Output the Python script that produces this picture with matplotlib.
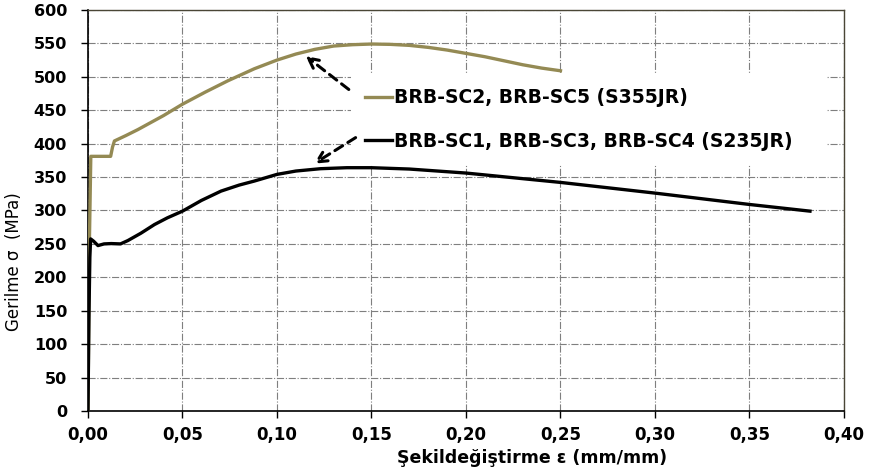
import matplotlib
matplotlib.use("Agg")
import matplotlib.pyplot as plt
from matplotlib.ticker import FuncFormatter

plt.rcParams['font.family'] = ['DejaVu Sans']

# Data
s355_label = "BRB-SC2, BRB-SC5 (S355JR)"
s355_strain = [0, 0.0008, 0.0015, 0.012, 0.013, 0.014, 0.02, 0.0264, 0.04, 0.05, 0.062, 0.074,
               0.088, 0.10, 0.11, 0.12, 0.13, 0.14, 0.15, 0.16, 0.17, 0.18, 0.19, 0.20,
               0.21, 0.22, 0.23, 0.24, 0.25]
s355_stress = [0, 260, 381, 381, 395, 404, 412, 421, 442, 459, 477, 494,
               512, 525, 534, 541, 546, 548, 549, 548.5, 547, 544, 540, 535,
               530, 524, 518, 513, 509]

s235_label = "BRB-SC1, BRB-SC3, BRB-SC4 (S235JR)"
s235_strain = [0, 0.0005, 0.0010, 0.0014, 0.0030, 0.0053, 0.0085, 0.0123, 0.0172, 0.0211,
               0.028, 0.0352, 0.042, 0.05, 0.06, 0.0704, 0.08, 0.088, 0.10, 0.11, 0.123,
               0.137, 0.15, 0.17, 0.20, 0.25, 0.30, 0.35, 0.382]
s235_stress = [0, 140, 230, 257.5, 254, 247.5, 250, 250.5, 250, 255,
               266, 279, 289, 299, 315, 329, 338, 344, 354, 359, 362.5,
               364, 364, 362, 356, 342, 326, 309, 299]

x_ticks = [0.00, 0.05, 0.10, 0.15, 0.20, 0.25, 0.30, 0.35, 0.40]
y_ticks = list(range(0, 601, 50))

fig = plt.figure(figsize=(8.71, 4.73), dpi=100)
ax = fig.add_axes([0.101, 0.131, 0.868, 0.848])

gold = '#948A54'
ax.plot(s355_strain, s355_stress, color=gold, lw=2.4, label=s355_label, zorder=3)
ax.plot(s235_strain, s235_stress, color='black', lw=2.4, label=s235_label, zorder=3)

ax.set_xlim(0, 0.40)
ax.set_ylim(0, 600)
ax.set_xticks(x_ticks)
ax.set_yticks(y_ticks)
ax.xaxis.set_major_formatter(FuncFormatter(lambda v, p: f"{v:.2f}".replace('.', ',')))
ax.tick_params(axis='both', direction='out', length=5, width=1)
ax.tick_params(axis='x', labelsize=12, pad=6)
ax.tick_params(axis='y', labelsize=11.5, pad=10)
for lab in ax.get_xticklabels() + ax.get_yticklabels():
    lab.set_fontweight('bold')

ax.grid(True, color='#7f7f7f', linestyle='-.', linewidth=0.8, zorder=0)
ax.set_axisbelow(True)

for side in ['left', 'bottom']:
    ax.spines[side].set_color('black')
    ax.spines[side].set_linewidth(1.2)
for side in ['top', 'right']:
    ax.spines[side].set_color('#4a4636')
    ax.spines[side].set_linewidth(1.0)

ax.set_xlabel("Şekildeğiştirme ε (mm/mm)", fontsize=12.5, fontweight='bold')
ax.xaxis.set_label_coords(0.587, -0.095)
ax.set_ylabel("Gerilme σ  (MPa)", fontsize=12)
ax.yaxis.set_label_coords(-0.086, 0.372)

leg = ax.legend(loc='center left', bbox_to_anchor=(0.335, 0.618, 0.654, 0.217), mode='expand',
                frameon=True, fancybox=False, edgecolor='none', facecolor='white', framealpha=1,
                handlelength=1.45, handletextpad=0.1, labelspacing=1.3, borderpad=0.75,
                prop={'weight': 'bold', 'size': 13.5})
leg.set_zorder(4)

arrow_kw = dict(arrowstyle='->', color='black', lw=2.2, linestyle=(0, (3, 2)),
                mutation_scale=18, shrinkA=0, shrinkB=0)
ax.annotate('', xy=(0.1152, 531), xytext=(0.138, 481), arrowprops=arrow_kw, zorder=5)
ax.annotate('', xy=(0.1196, 370), xytext=(0.1416, 409), arrowprops=arrow_kw, zorder=5)

fig.savefig('out.png', dpi=100)
